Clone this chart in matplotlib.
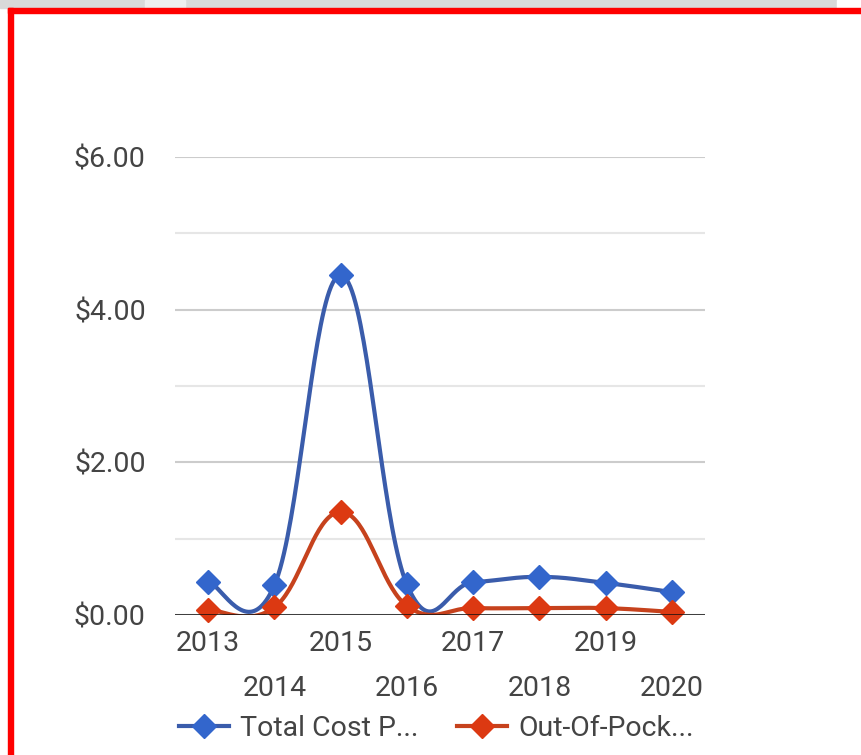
import matplotlib
matplotlib.use("Agg")
import matplotlib.pyplot as plt
import numpy as np
from matplotlib.lines import Line2D
from matplotlib.patches import Rectangle

plt.rcParams["font.family"] = ["Roboto", "DejaVu Sans"]

# ── Data ───────────────────────────────────────────────────────────────────
years = ["2013", "2014", "2015", "2016", "2017", "2018", "2019", "2020"]
total_cost = [0.43, 0.39, 4.45, 0.40, 0.43, 0.50, 0.42, 0.30]
out_of_pocket = [0.07, 0.10, 1.35, 0.12, 0.09, 0.09, 0.09, 0.04]
legend_labels = ["Total Cost P...", "Out-Of-Pock..."]
y_major = [0, 2, 4, 6]
y_minor = [1, 3, 5]

BLUE, BLUE_LINE = "#3366cc", "#3a5cab"
RED, RED_LINE = "#dc3912", "#c6421d"
TEXT = "#444444"
FS = 20.5
MS = 12.5


def smooth(xs, ys, k=0.2, n=40):
    """Cubic Bezier through the points, Catmull-Rom style control points."""
    p = np.column_stack([xs, ys]).astype(float)
    m = len(p)
    tang = np.zeros_like(p)
    for i in range(m):
        a = p[max(i - 1, 0)]
        b = p[min(i + 1, m - 1)]
        tang[i] = (b - a) * k
    t = np.linspace(0, 1, n)[:, None]
    out = []
    for i in range(m - 1):
        p0, p3 = p[i], p[i + 1]
        c1, c2 = p0 + tang[i], p3 - tang[i + 1]
        seg = ((1 - t) ** 3) * p0 + 3 * ((1 - t) ** 2) * t * c1 \
            + 3 * (1 - t) * t ** 2 * c2 + t ** 3 * p3
        out.append(seg if i == 0 else seg[1:])
    out = np.vstack(out)
    return out[:, 0], out[:, 1]


fig = plt.figure(figsize=(8.61, 7.55), dpi=100)

# page chrome: grey strip at the top and a red frame
fig.patches.append(Rectangle((0, 1 - 8 / 755), 1, 8 / 755, transform=fig.transFigure,
                             color="#d9d9d9", zorder=0))
fig.patches.append(Rectangle((145 / 861, 1 - 8 / 755), 40 / 861, 8 / 755,
                             transform=fig.transFigure, color="#eeeeee", zorder=0))
fig.patches.append(Rectangle((837 / 861, 1 - 8 / 755), 24 / 861, 8 / 755,
                             transform=fig.transFigure, color="#ffffff", zorder=0))
fig.patches.append(Rectangle((8 / 861, 0), 5 / 861, 1 - 8 / 755, transform=fig.transFigure,
                             color="#ff0000", zorder=1))
fig.patches.append(Rectangle((8 / 861, 1 - 13 / 755), 1, 5 / 755, transform=fig.transFigure,
                             color="#ff0000", zorder=1))

ax = fig.add_axes([175 / 861, 140 / 755, 530 / 861, 458 / 755])
x = np.arange(len(years))

for vals, lc, mc in [(total_cost, BLUE_LINE, BLUE), (out_of_pocket, RED_LINE, RED)]:
    sx, sy = smooth(x, vals)
    ax.plot(sx, sy, color=lc, lw=3.0, zorder=3, solid_capstyle="round")
    ax.plot(x, vals, linestyle="none", marker="D", markersize=MS,
            color=mc, zorder=4, clip_on=False)

ax.set_xlim(-0.5, len(years) - 0.5)
ax.set_ylim(0, 6)

ax.set_yticks(y_major)
ax.set_yticklabels([f"${v:.2f}" for v in y_major])
ax.set_yticks(y_minor, minor=True)
ax.grid(axis="y", which="major", color="#cccccc", lw=1.5)
ax.grid(axis="y", which="minor", color="#e6e6e6", lw=1.5)
ax.axhline(0, color="#111111", lw=1.8, zorder=5)

ax.set_xticks(x[::2])
ax.set_xticklabels(years[::2])
ax.set_xticks(x[1::2], minor=True)
ax.set_xticklabels(years[1::2], minor=True)

ax.tick_params(axis="y", which="both", length=0, pad=21, labelsize=FS, labelcolor=TEXT)
ax.tick_params(axis="x", which="major", length=0, pad=10.5, labelsize=FS, labelcolor=TEXT)
ax.tick_params(axis="x", which="minor", length=0, pad=43, labelsize=FS, labelcolor=TEXT)

for s in ax.spines.values():
    s.set_visible(False)
ax.set_axisbelow(True)

handles = [
    Line2D([], [], color=BLUE_LINE, lw=3.0, marker="D", markersize=MS,
           markerfacecolor=BLUE, markeredgecolor=BLUE),
    Line2D([], [], color=RED_LINE, lw=3.0, marker="D", markersize=MS,
           markerfacecolor=RED, markeredgecolor=RED),
]
leg = ax.legend(handles, legend_labels, ncol=2, frameon=False, loc="center left",
                bbox_to_anchor=(179 / 861, 27 / 755), bbox_transform=fig.transFigure,
                fontsize=FS, handlelength=1.75, handletextpad=0.4, columnspacing=1.35,
                borderpad=0, borderaxespad=0)
for t in leg.get_texts():
    t.set_color(TEXT)

fig.savefig("out.png", dpi=100)
